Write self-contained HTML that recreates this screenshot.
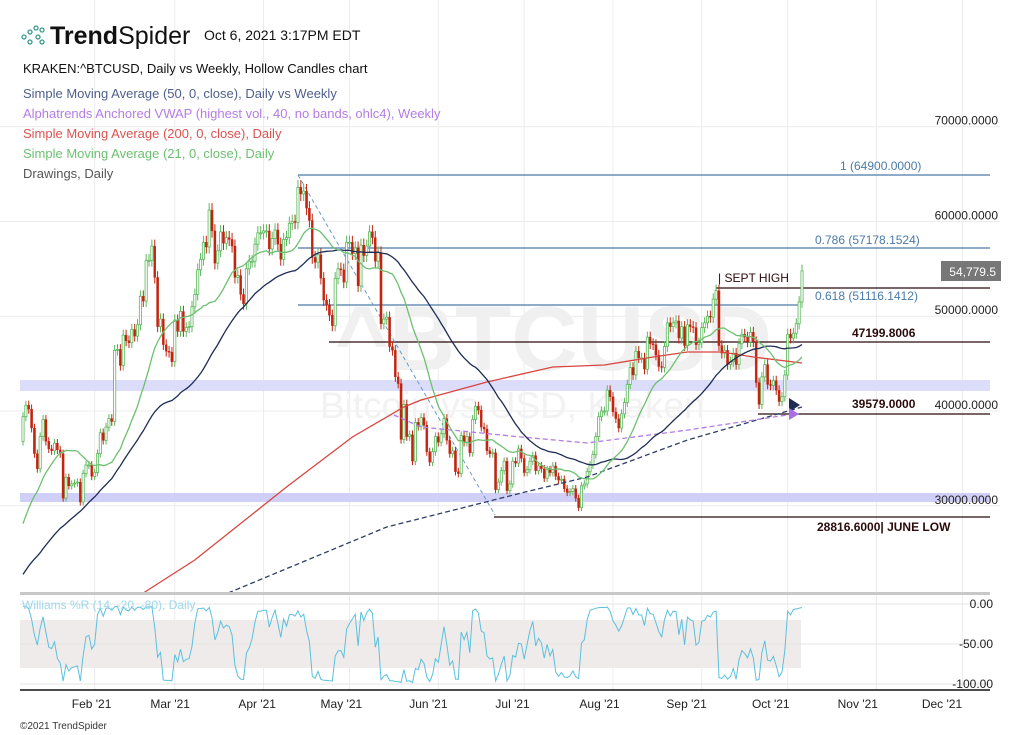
<!DOCTYPE html>
<html><head><meta charset="utf-8"><style>
html,body{margin:0;padding:0;background:#fff;}
svg{display:block;font-family:"Liberation Sans",sans-serif;}
</style></head><body>
<svg id="chart" width="1023" height="735" viewBox="0 0 1023 735">
<g id="grid"></g>
<rect x="20" y="380" width="970" height="11" fill="#dcdcfb"/>
<rect x="20" y="493" width="970" height="9" fill="#cfcff8"/>
<text x="335" y="370" font-size="92" font-weight="bold" fill="#f0f0f0">^BTCUSD</text>
<text x="320" y="418" font-size="37" fill="#f2f2f2">Bitcoin vs USD, Kraken</text>
<g id="ylabels"></g>
<g id="drawings"></g>
<g id="candles"></g>
<g id="lines"></g>
<g id="labels"></g>
<g id="lower"></g>
<g id="header">
 <g fill="none" stroke="#3a9a8a" stroke-width="1.3">
  <circle cx="24" cy="37" r="2"/><circle cx="30" cy="32" r="2"/><circle cx="30" cy="42" r="2"/><circle cx="36" cy="28" r="2"/><circle cx="38" cy="37" r="2"/><circle cx="42" cy="30" r="2"/><circle cx="42" cy="42" r="2"/>
 </g>
 <text x="50" y="44" font-size="25" fill="#111"><tspan font-weight="bold">Trend</tspan>Spider</text>
 <text x="204" y="40" font-size="14" fill="#111">Oct 6, 2021 3:17PM EDT</text>
 <text x="23" y="73" font-size="13" fill="#111">KRAKEN:^BTCUSD, Daily vs Weekly, Hollow Candles chart</text>
 <text x="23" y="98" font-size="13" fill="#4e5f8c">Simple Moving Average (50, 0, close), Daily vs Weekly</text>
 <text x="23" y="118" font-size="13" fill="#b57ce6">Alphatrends Anchored VWAP (highest vol., 40, no bands, ohlc4), Weekly</text>
 <text x="23" y="138" font-size="13" fill="#d9534f">Simple Moving Average (200, 0, close), Daily</text>
 <text x="23" y="158" font-size="13" fill="#6cc070">Simple Moving Average (21, 0, close), Daily</text>
 <text x="23" y="178" font-size="13" fill="#555">Drawings, Daily</text>
 <text x="20" y="729" font-size="10" fill="#333">©2021 TrendSpider</text>
</g>
</svg>
<script>
const preCloses=[17800,17800,18700,18700,18400,18400,19200,18700,17100,17100,17700,18200,19700,
18800,19200,19400,18700,19200,19400,19200,18300,18600,18300,18000,18800,19200,19300,19400,21300,22800,23100,23900,23500,22700,23800,23200,23700,24700,26400,26300,27100,27400,28900,29000,
29400,32200,33000,32000,34000,36800];
const closes=[
39400,40600,40200,38200,35500,33900,37300,39100,36800,36000,35800,36600,35900,35500,30800,33000,32100,32300,32400,32500,30400,33400,34300,34300,33100,
33500,35500,37700,36900,38300,39200,38900,46400,46500,44800,48000,47400,47200,48600,47900,49100,52100,51600,55900,55900,57400,54100,48900,49700,47000,46300,46200,45200,
49600,48400,50500,48400,48800,48900,51000,52300,54900,56000,57800,57300,61200,59000,55600,56900,58900,57700,58300,58100,57400,54100,54300,52300,51300,55000,55800,55800,57600,58800,58800,
59000,59000,57100,58200,59100,57600,56000,58100,58300,59800,60000,59900,63600,62900,63200,61400,60100,56200,55700,56500,54000,51700,51200,50100,49000,54000,55000,54900,53600,57800,
57800,56600,57200,53200,57500,56400,57400,58900,58300,55800,56700,49200,49700,49900,46800,46400,43600,42900,37000,40700,37300,37500,34700,38800,38400,39300,38500,35700,34600,35700,37300,
36700,37600,39200,36900,35500,35800,33600,33400,37400,36700,37300,35600,39100,40500,40100,38300,38100,35800,35500,35600,31700,32500,33700,34700,31600,32300,34700,34500,36000,35000,
33500,33800,34700,35300,33700,34200,33900,32900,33800,33500,34200,33100,32700,32800,31800,31400,31500,31800,30800,29800,32100,32300,33600,34300,35400,37300,39400,40000,40000,42200,41500,
39900,39200,38200,39700,40900,42800,44600,43800,46300,45600,45600,44400,47800,47100,47000,45900,44700,44600,46800,49300,48900,49300,49500,47700,48900,46900,49100,48900,48800,47000,47200,
48800,49300,50000,49900,51800,52700,46900,46100,46400,44900,45200,46100,44900,47100,48100,47800,47300,48300,47300,43000,40700,43600,44900,42800,42700,43200,42200,41000,41500,43800,
48100,47700,48200,49200,51500,54780];
const sma200Days=[42,60,92,115,133,139,162,185,203,220,232,244,255,272];
const sma200Values=[20800,24280,31980,37260,40420,41160,43060,44640,44850,45700,46230,46230,45700,45060];
const trendDays=[71.6,127,174,197,232,272];
const trendValues=[20800,27760,31350,33040,36940,40420];
const vwapDays=[129.5,139,174,197,232,269];
const vwapValues=[39580,38310,37260,36620,37990,39680];
const monthLabels=["Feb '21","Mar '21","Apr '21","May '21","Jun '21","Jul '21","Aug '21","Sep '21","Oct '21","Nov '21","Dec '21"];
const monthStartDays=[25,53,84,114,145,175,206,237,267,298,328];
const priceTicks=[70000,60000,50000,40000,30000];
const wrTicks=[0,-50,-100];

const NS="http://www.w3.org/2000/svg";
const X=i=>23+i*2.864;
const Y=p=>175+(64900-p)*0.009478;
const WY=r=>604+(-r)*0.80;
function mk(parent,tag,attrs){const e=document.createElementNS(NS,tag);for(const k in attrs)e.setAttribute(k,attrs[k]);parent.appendChild(e);return e;}
const G=id=>document.getElementById(id);

// grid
const grid=G('grid');
priceTicks.forEach(p=>{const l=mk(grid,'line',{x1:0,x2:1000,y1:Y(p),y2:Y(p),stroke:'#ececec'});

});
monthStartDays.forEach((d,k)=>{const gx=X(d);
const l=mk(grid,'line',{x1:gx,x2:gx,y1:0,y2:690,stroke:'#ececec'});


const t=mk(grid,'text',{x:gx-3-0.02*(gx-93),y:708,'font-size':12,'text-anchor':'middle',fill:'#222'});t.textContent=monthLabels[k];

});
const yl=G('ylabels');
priceTicks.forEach(p=>{const t=mk(yl,'text',{x:998,y:Y(p)-2,'font-size':12,'text-anchor':'end',fill:'#222'});t.textContent=p.toFixed(4);

});

// drawings
const dr=G('drawings');
function hline(x1,x2,p,col,name,y){const l=mk(dr,'line',{x1:x1,x2:x2,y1:y,y2:y,stroke:col,'stroke-width':1.3});

}
hline(298,990,64900,'#4a7aa8','fib-1-line',175);
hline(298,990,57178,'#4a7aa8','fib-0786-line',248);
hline(298,800,51116,'#4a7aa8','fib-0618-line',305);
hline(716,990,52900,'#2a0a0a','sept-high-line',288);
hline(329,990,47199,'#2a0a0a','level-47199-line',342);
hline(758,990,39579,'#2a0a0a','level-39579-line',414);
hline(494,990,28816,'#2a0a0a','june-low-line',517);
const dg=mk(dr,'line',{x1:298,y1:175,x2:495,y2:515,stroke:'#6a9ac8','stroke-width':1,'stroke-dasharray':'4,3'});



// candles
const cg=G('candles');
closes.forEach((c,i)=>{const o=i===0?preCloses[preCloses.length-1]:closes[i-1];
const up=c>=o;const col=up?'#5cb85c':'#c1240f';const x=X(i);
const hi=Math.max(o,c)*1.012,lo=Math.min(o,c)*0.988;
const w=mk(cg,'line',{x1:x,x2:x,y1:Y(hi),y2:Y(lo),stroke:col,'stroke-width':1});


const top=Y(Math.max(o,c)),h=Math.max(1,Y(Math.min(o,c))-top);
const r=mk(cg,'rect',{x:x-1.1,y:top,width:2.2,height:h,fill:up?'#fff':col,stroke:col,'stroke-width':up?0.8:0.3});

});

// indicators
const all=preCloses.concat(closes),off=preCloses.length;
function sma(n){const pts=[];for(let i=0;i<closes.length;i++){const j=i+off;if(j-n+1<0)continue;let s=0;for(let k=j-n+1;k<=j;k++)s+=all[k];pts.push([X(i),Y(s/n)]);}return pts;}
const lg=G('lines');
function poly(pts,col,name,dash,w){const e=mk(lg,'polyline',{points:pts.map(p=>p[0].toFixed(1)+','+p[1].toFixed(1)).join(' '),fill:'none',stroke:col,'stroke-width':w||1.3});if(dash)e.setAttribute('stroke-dasharray',dash);

return e;}
poly(sma200Days.map((d,k)=>[X(d),Y(sma200Values[k])]),'#d9453f','sma200-line');
poly(trendDays.map((d,k)=>[X(d),Y(trendValues[k])]),'#2e3d66','anchored-trendline','5,3');
poly(vwapDays.map((d,k)=>[X(d),Y(vwapValues[k])]),'#b57ce6','vwap-line','5,3');
poly(sma(50),'#1f2d55','sma50-line');
poly(sma(21),'#6cc070','sma21-line');
const t1=mk(lg,'polygon',{points:'789,398 800,405 789,412',fill:'#1f2d55'});


const t2=mk(lg,'polygon',{points:'789,408 799,414 789,420',fill:'#a86ee6'});



// labels
const lb=G('labels');
function txt(x,y,s,col,bold,name,anchor){const t=mk(lb,'text',{x:x,y:y,'font-size':12,fill:col,'font-weight':bold?'bold':'normal','text-anchor':anchor||'start'});t.textContent=s;

}
txt(840,170,'1 (64900.0000)','#4a7aa8',false,'fib-1-label');
txt(815,244,'0.786 (57178.1524)','#4a7aa8',false,'fib-0786-label');
txt(815,300,'0.618 (51116.1412)','#4a7aa8',false,'fib-0618-label');
txt(852,337,'47199.8006','#2a0a0a',true,'level-47199-label');
txt(852,408,'39579.0000','#2a0a0a',true,'level-39579-label');
txt(817,531,'28816.6000| JUNE LOW','#2a0a0a',true,'june-low-label');
txt(718,282,'| SEPT HIGH','#2a0a0a',false,'sept-high-label');
const pb=mk(lb,'rect',{x:941,y:261,width:60,height:20,fill:'#777'});


txt(996,276,'54,779.5','#fff',false,'last-price-label','end');

// lower panel
const lw=G('lower');
const sep=mk(lw,'rect',{x:20,y:592,width:970,height:3,fill:'#c8c8c8'});


const zone=mk(lw,'rect',{x:20,y:WY(-20),width:781,height:WY(-80)-WY(-20),fill:'#efebea'});


wrTicks.forEach(v=>{const l=mk(lw,'line',{x1:20,x2:990,y1:WY(v),y2:WY(v),stroke:'#e4e4e4'});


const t=mk(lw,'text',{x:993,y:WY(v)+4,'font-size':12,'text-anchor':'end',fill:'#222'});t.textContent=v.toFixed(2);

});
const ax=mk(lw,'line',{x1:20,x2:990,y1:690,y2:690,stroke:'#111','stroke-width':1.5});


const wr=[];for(let i=0;i<closes.length;i++){const j=i+off;let hh=-1e9,ll=1e9;for(let k=j-13;k<=j;k++){const o=all[k-1]||all[k],c=all[k];hh=Math.max(hh,Math.max(o,c)*1.012);ll=Math.min(ll,Math.min(o,c)*0.988);}
wr.push([X(i),WY((hh-all[j])/(hh-ll)*-100)]);}
const wl=mk(lw,'polyline',{points:wr.map(p=>p[0].toFixed(1)+','+p[1].toFixed(1)).join(' '),fill:'none',stroke:'#5bc0de','stroke-width':1});


const wt=mk(lw,'text',{x:22,y:609,'font-size':12,fill:'#9fd8ea'});wt.textContent='Williams %R (14, -20, -80), Daily';


</script>
</body></html>
